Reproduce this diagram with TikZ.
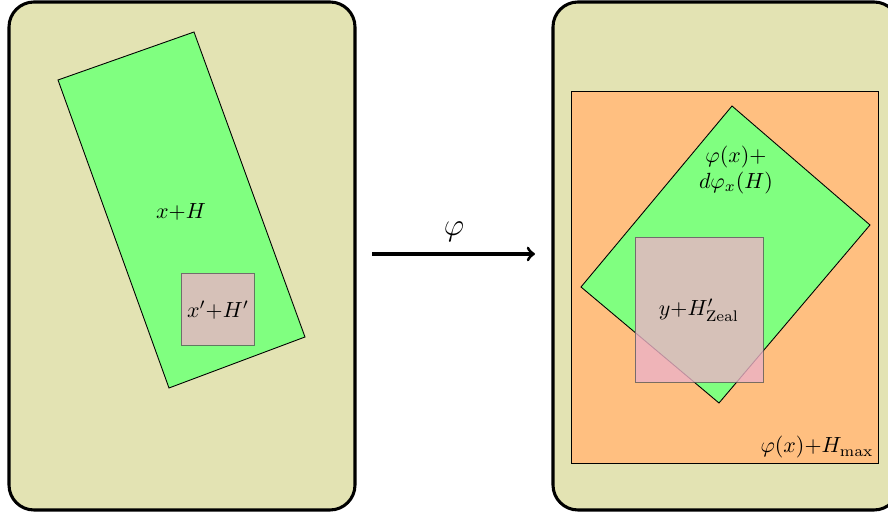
\documentclass[tikz,border=0pt]{standalone}
\definecolor{panelbg}{RGB}{227,227,179}
\begin{document}
\begin{tikzpicture}[
  x=0.016cm, y=-0.016cm,
  panel/.style={draw=black, line width=1.4pt, fill=panelbg, rounded corners=0.4cm},
  chart/.style={draw=black, fill=green!50},
  maxbox/.style={draw=black, fill=orange!50},
  ball/.style={draw=black!65, fill=purple!30, fill opacity=0.8, draw opacity=0.8},
  lbl/.style={inner sep=1pt},
]

\useasboundingbox (0,0) rectangle (888,513);
\clip (0,0) rectangle (888,513);

% left panel: x + H and x' + H'
\draw[panel] (9,2) rectangle (355,510);
\draw[chart] (58,80) -- (194,32) -- (305,337) -- (169,388) -- cycle;
\draw[ball] (181,273) rectangle (254,345);
\node[lbl] (xH) at (181,212) {$x{+}H$};
\node[lbl] (xpHp) at (218,310) {$x'{+}H'$};

% the map
\coordinate (src) at (372,254);
\coordinate (dst) at (535,254);
\draw[line width=1.4pt, ->] (src) -- (dst);
\node[lbl, font=\Large] (phi) at (454,232) {$\varphi$};

% right panel: images under phi
\draw[panel] (553,2) rectangle (899,510);
\draw[maxbox] (571,91) rectangle (878,463);
\draw[chart] (732,106) -- (870,225) -- (719,403) -- (581,287) -- cycle;
\draw[ball] (635,237) rectangle (763,382);
\node[lbl, align=center] (img) at (736,170) {$\varphi(x){+}$\\$d\varphi_x(H)$};
\node[lbl] (yH) at (699,310) {$y{+}H'_{\mathrm{Zeal}}$};
\node[lbl, anchor=south east] (hmax) at (876,461) {$\varphi(x){+}H_{\max}$};

\end{tikzpicture}
\end{document}
